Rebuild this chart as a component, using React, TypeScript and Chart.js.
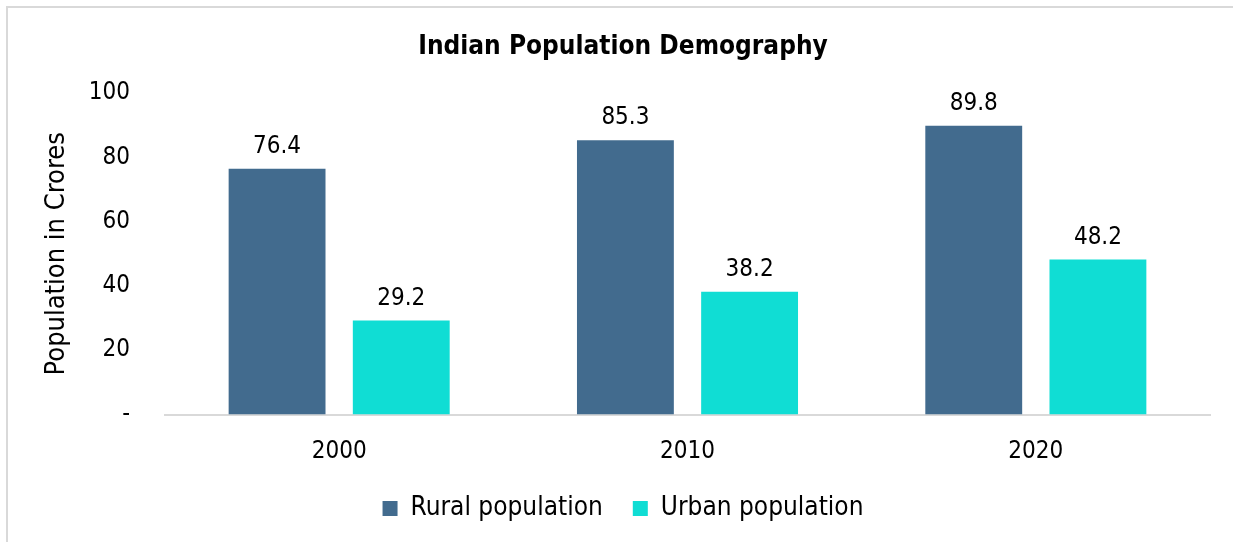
import React, { useEffect, useRef } from 'react';
import { Chart, registerables } from 'chart.js';

Chart.register(...registerables);

const categories = ['2000', '2010', '2020'];
const ruralValues = [76.4, 85.3, 89.8];
const urbanValues = [29.2, 38.2, 48.2];
const seriesNames = ['Rural population', 'Urban population'];
const chartTitle = 'Indian Population Demography';
const yAxisTitle = 'Population in Crores';
const yMin = 0;
const yMax = 100;
const yStep = 20;

const FONT = "'DejaVu Sans Condensed', 'DejaVu Sans', sans-serif";
const RURAL = '#426b8e';
const URBAN = '#10ddd4';

const valueLabels = {
  id: 'valueLabels',
  afterDatasetsDraw(chart: any) {
    const ctx = chart.ctx;
    ctx.save();
    ctx.font = `24px ${FONT}`;
    ctx.fillStyle = '#000';
    ctx.textAlign = 'center';
    ctx.textBaseline = 'alphabetic';
    chart.data.datasets.forEach((ds: any, i: number) => {
      const meta = chart.getDatasetMeta(i);
      meta.data.forEach((bar: any, j: number) => {
        ctx.fillText(Number(ds.data[j]).toFixed(1), bar.x, bar.y - 16);
      });
    });
    ctx.restore();
  },
};

export default function App() {
  const ref = useRef<HTMLCanvasElement | null>(null);

  useEffect(() => {
    if (!ref.current) return;
    const chart = new Chart(ref.current, {
      type: 'bar',
      data: {
        labels: categories,
        datasets: [
          {
            label: seriesNames[0],
            data: ruralValues,
            backgroundColor: RURAL,
            barPercentage: 0.78,
            categoryPercentage: 0.713,
          },
          {
            label: seriesNames[1],
            data: urbanValues,
            backgroundColor: URBAN,
            barPercentage: 0.78,
            categoryPercentage: 0.713,
          },
        ],
      },
      options: {
        animation: false,
        responsive: false,
        maintainAspectRatio: false,
        layout: { padding: { left: 0, right: 0, top: 0, bottom: 10.5 } },
        plugins: {
          title: {
            display: true,
            text: chartTitle,
            color: '#000',
            font: { family: FONT, size: 26, weight: 'bold' },
            padding: { top: 32, bottom: 29.8 },
          },
          legend: {
            position: 'bottom',
            labels: {
              boxWidth: 15,
              boxHeight: 15,
              color: '#000',
              padding: 30,
              font: { family: FONT, size: 26 },
            },
          },
          tooltip: { enabled: false },
        },
        scales: {
          x: {
            grid: { display: false, drawTicks: false },
            border: { display: true, color: '#d9d9d9', width: 2 },
            ticks: { color: '#000', padding: 22.5, font: { family: FONT, size: 24 } },
            afterFit: (s: any) => {
              s.height = 51;
            },
          },
          y: {
            min: yMin,
            max: yMax,
            grid: { display: false, drawTicks: false },
            border: { display: false },
            ticks: {
              stepSize: yStep,
              color: '#000',
              padding: 35,
              font: { family: FONT, size: 24 },
              callback: (v: any) => (Number(v) === 0 ? '-' : String(v)),
            },
            title: {
              display: true,
              text: yAxisTitle,
              color: '#000',
              font: { family: FONT, size: 27 },
              padding: { top: 41, bottom: 0 },
            },
            afterFit: (s: any) => {
              s.width = 165;
            },
          },
          yRight: {
            position: 'right',
            display: true,
            grid: { display: false, drawTicks: false },
            border: { display: false },
            ticks: { display: false },
            afterFit: (s: any) => {
              s.width = 36;
            },
          },
        },
      },
      plugins: [valueLabels],
    } as any);
    return () => chart.destroy();
  }, []);

  return (
    <div
      style={{
        position: 'fixed',
        left: 0,
        top: 0,
        width: 1233,
        height: 542,
        overflow: 'hidden',
        background: '#fff',
      }}
    >
      <div
        style={{
          position: 'absolute',
          left: 6,
          top: 6,
          width: 1400,
          height: 700,
          borderTop: '2px solid #d9d9d9',
          borderLeft: '2px solid #d9d9d9',
        }}
      />
      <canvas
        ref={ref}
        width={1246}
        height={542}
        style={{ position: 'absolute', left: 0, top: 0, width: 1246, height: 542 }}
      />
    </div>
  );
}
